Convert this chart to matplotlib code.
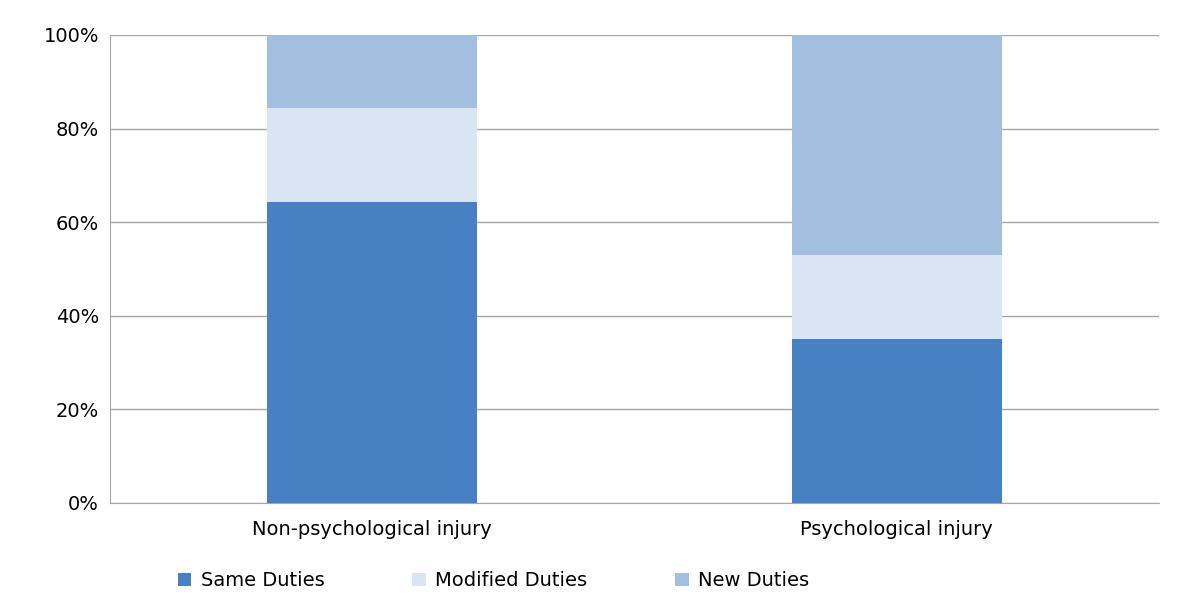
import matplotlib
matplotlib.use("Agg")
import matplotlib.pyplot as plt
from matplotlib.ticker import PercentFormatter

categories = ["Non-psychological injury", "Psychological injury"]
same = [64.3, 35.0]
modified = [20.1, 18.0]
new = [15.6, 47.0]
series_names = ["Same Duties", "Modified Duties", "New Duties"]
colors = ["#4780C3", "#DAE5F3", "#A3BFDF"]

fig = plt.figure(figsize=(11.93, 6.14), dpi=100)
ax = fig.add_axes([110/1193, 1-503/614, 1049/1193, 468/614])
x = range(len(categories))
bottom = [0, 0]
for vals, name, c in zip([same, modified, new], series_names, colors):
    ax.bar(x, vals, width=0.4, bottom=bottom, color=c, label=name, zorder=3)
    bottom = [b + v for b, v in zip(bottom, vals)]
ax.set_xlim(-0.5, 1.5)
ax.set_ylim(0, 100)
ax.set_yticks(range(0, 101, 20))
ax.yaxis.set_major_formatter(PercentFormatter(decimals=0))
ax.set_xticks(list(x))
ax.set_xticklabels(categories)
ax.grid(axis="y", color="#A6A6A6", linewidth=1, zorder=0)
for s in ["top", "right"]:
    ax.spines[s].set_visible(False)
ax.spines["left"].set_color("#A6A6A6")
ax.spines["bottom"].set_color("#A6A6A6")
ax.tick_params(axis="y", length=0, labelsize=14, pad=8)
ax.tick_params(axis="x", length=0, labelsize=14, pad=12)
fig.legend(loc="lower left", bbox_to_anchor=(160/1193, 0.01), ncol=3, frameon=False,
           fontsize=14, handlelength=0.7, handleheight=0.7, columnspacing=4.5, handletextpad=0.5)
fig.savefig("out.png", dpi=100)
